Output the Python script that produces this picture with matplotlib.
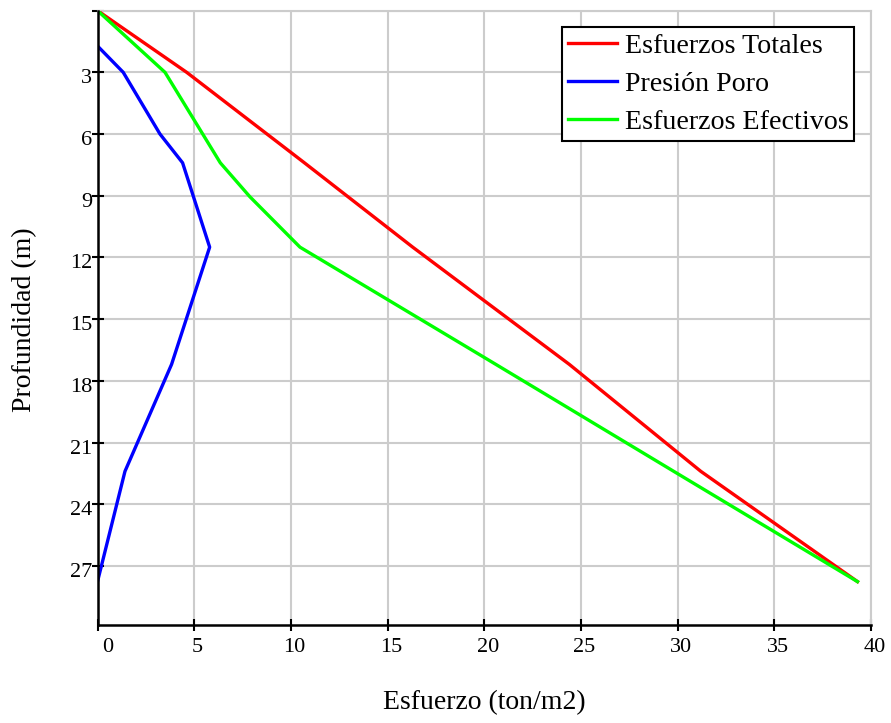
import numpy as np
from matplotlib import pyplot as plt
from matplotlib import transforms

# profundidades (m) y esfuerzos (ton/m2)
prof_total = [0.0, 3.0, 7.4, 11.5, 17.2, 22.4, 27.76]
esf_total = [0.0, 4.61, 10.7, 16.3, 24.4, 31.2, 39.3]

prof_poro = [1.72, 3.0, 6.0, 7.4, 11.5, 17.2, 22.4, 27.76]
presion_poro = [0.0, 1.33, 3.23, 4.4, 5.8, 3.83, 1.42, 0.0]

prof_efect = [0.0, 3.0, 7.4, 9.05, 11.5, 17.2, 22.4, 27.76]
esf_efect = [0.0, 3.49, 6.35, 7.88, 10.47, 20.6, 29.8, 39.3]

x_ticks = [0, 5, 10, 15, 20, 25, 30, 35, 40]
y_ticks = [0, 3, 6, 9, 12, 15, 18, 21, 24, 27]
y_labels = ["", "3", "6", "9", "12", "15", "18", "21", "24", "27"]

plt.rcParams['font.family'] = ['Liberation Serif', 'DejaVu Serif']

fig = plt.figure(figsize=(8.91, 7.23), dpi=100)
ax = fig.add_axes([97.5 / 891, 1 - 625 / 723, (871 - 97.5) / 891, (625 - 10.6) / 723])

ax.plot(esf_total, prof_total, color="#ff0000", lw=2.4, label="Esfuerzos Totales", zorder=3)
ax.plot(presion_poro, prof_poro, color="#0000ff", lw=2.4, label="Presión Poro", zorder=3)
ax.plot(esf_efect, prof_efect, color="#00ff00", lw=2.4, label="Esfuerzos Efectivos", zorder=3)

ax.set_xlim(0, 40)
ax.set_ylim(29.87, 0)

# rejilla gris
for xv in x_ticks:
    ax.axvline(xv, color="#cccccc", lw=1.5, zorder=1)
for yv in y_ticks:
    ax.axhline(yv, color="#cccccc", lw=1.5, zorder=1)

ax.set_xticks(x_ticks)
ax.set_yticks(y_ticks)
ax.set_xticklabels([str(v) for v in x_ticks])
ax.set_yticklabels(y_labels)
ax.tick_params(axis="both", direction="inout", length=8, width=1.5, labelsize=16, colors="black")
ax.tick_params(axis="x", pad=5)
ax.tick_params(axis="y", pad=0)

# desplazar etiquetas como en el original
for i, lab in enumerate(ax.get_xticklabels()):
    off = 10 if i == 0 else 3.5
    dx = transforms.ScaledTranslation(off / 100, 0, fig.dpi_scale_trans)
    lab.set_transform(lab.get_transform() + dx)
dy = transforms.ScaledTranslation(0, -4 / 100, fig.dpi_scale_trans)
for lab in ax.get_yticklabels():
    lab.set_transform(lab.get_transform() + dy)

for s in ["left", "bottom"]:
    ax.spines[s].set_color("black")
    ax.spines[s].set_linewidth(1.8)
    ax.spines[s].set_zorder(4)
for s in ["top", "right"]:
    ax.spines[s].set_color("#cccccc")
    ax.spines[s].set_linewidth(1.5)

fig.text(484 / 891, 1 - 703 / 723, "Esfuerzo (ton/m2)", fontsize=20, ha="center", va="center")
fig.text(25 / 891, 1 - 320 / 723, "Profundidad (m)", fontsize=20, ha="center", va="center", rotation=90)

leg = ax.legend(loc="upper right", fontsize=20.2, frameon=True, fancybox=False, framealpha=1,
                edgecolor="black", borderaxespad=0.6, handlelength=1.75, handletextpad=0.29,
                labelspacing=0.45, borderpad=0.2)
leg.get_frame().set_linewidth(1.5)

fig.savefig("out.png", dpi=100)
